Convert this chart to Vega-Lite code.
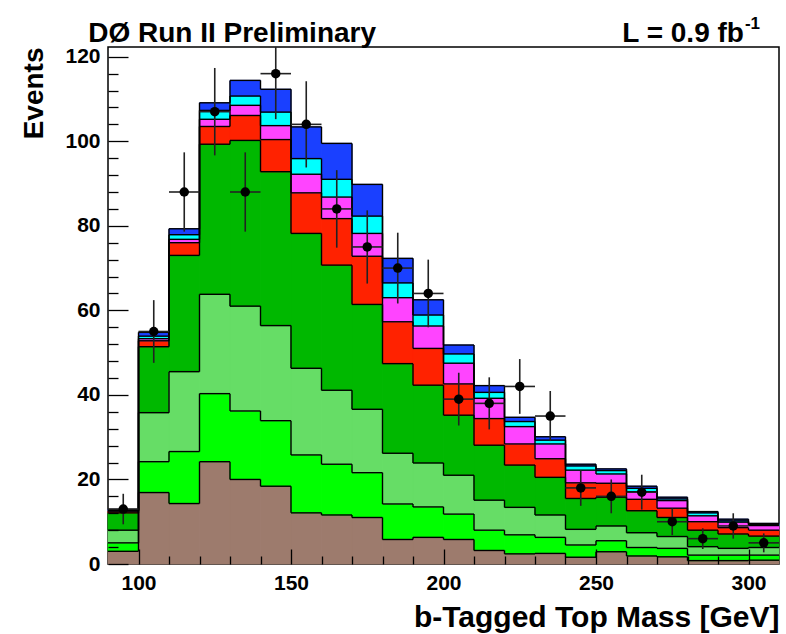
{
  "$schema": "https://vega.github.io/schema/vega-lite/v6.json",
  "width": 671,
  "height": 517,
  "autosize": {"type": "none"},
  "padding": {"left": 108, "top": 47, "right": 7, "bottom": 70},
  "background": "white",
  "config": {
    "font": "Liberation Sans",
    "view": {"stroke": "#000", "strokeWidth": 1.5}
  },
  "resolve": {"axis": {"x": "independent", "y": "independent"}},
  "datasets": {
    "mc": [
      {"lo": 90, "hi": 100, "multijet": 3.0, "wjj": 2.0, "wcc": 3.0, "wbb": 4.1, "ttlj": 0.4, "ttll": 0.1, "tqb": 0.1, "tb": 0.2},
      {"lo": 100, "hi": 110, "multijet": 16.9, "wjj": 7.3, "wcc": 11.6, "wbb": 15.6, "ttlj": 1.4, "ttll": 0.5, "tqb": 0.6, "tb": 0.9},
      {"lo": 110, "hi": 120, "multijet": 14.3, "wjj": 12.3, "wcc": 18.9, "wbb": 27.5, "ttlj": 3.0, "ttll": 0.8, "tqb": 1.1, "tb": 1.4},
      {"lo": 120, "hi": 130, "multijet": 24.2, "wjj": 16.1, "wcc": 23.5, "wbb": 35.5, "ttlj": 4.2, "ttll": 1.7, "tqb": 2.1, "tb": 1.8},
      {"lo": 130, "hi": 140, "multijet": 20.0, "wjj": 16.2, "wcc": 24.8, "wbb": 39.2, "ttlj": 5.9, "ttll": 2.4, "tqb": 2.2, "tb": 3.7},
      {"lo": 140, "hi": 150, "multijet": 18.4, "wjj": 15.5, "wcc": 22.5, "wbb": 36.4, "ttlj": 7.6, "ttll": 3.3, "tqb": 3.2, "tb": 5.4},
      {"lo": 150, "hi": 160, "multijet": 12.1, "wjj": 13.7, "wcc": 20.5, "wbb": 31.9, "ttlj": 9.6, "ttll": 4.4, "tqb": 3.7, "tb": 7.5},
      {"lo": 160, "hi": 170, "multijet": 11.6, "wjj": 12.0, "wcc": 17.5, "wbb": 29.6, "ttlj": 11.0, "ttll": 5.1, "tqb": 4.2, "tb": 8.5},
      {"lo": 170, "hi": 180, "multijet": 11.0, "wjj": 10.6, "wcc": 15.0, "wbb": 24.8, "ttlj": 11.4, "ttll": 5.4, "tqb": 4.1, "tb": 7.5},
      {"lo": 180, "hi": 190, "multijet": 5.8, "wjj": 8.4, "wcc": 12.0, "wbb": 21.2, "ttlj": 9.9, "ttll": 5.7, "tqb": 3.5, "tb": 5.8},
      {"lo": 190, "hi": 200, "multijet": 6.3, "wjj": 7.2, "wcc": 10.4, "wbb": 18.4, "ttlj": 8.7, "ttll": 5.3, "tqb": 2.6, "tb": 3.6},
      {"lo": 200, "hi": 210, "multijet": 5.8, "wjj": 6.0, "wcc": 9.2, "wbb": 14.2, "ttlj": 7.4, "ttll": 4.9, "tqb": 2.2, "tb": 2.1},
      {"lo": 210, "hi": 220, "multijet": 3.2, "wjj": 4.8, "wcc": 7.1, "wbb": 13.0, "ttlj": 6.3, "ttll": 4.8, "tqb": 1.4, "tb": 1.6},
      {"lo": 220, "hi": 230, "multijet": 2.4, "wjj": 4.5, "wcc": 6.5, "wbb": 10.0, "ttlj": 5.0, "ttll": 4.1, "tqb": 1.2, "tb": 1.0},
      {"lo": 230, "hi": 240, "multijet": 2.5, "wjj": 3.8, "wcc": 5.3, "wbb": 8.9, "ttlj": 4.4, "ttll": 3.5, "tqb": 0.9, "tb": 0.8},
      {"lo": 240, "hi": 250, "multijet": 1.6, "wjj": 2.9, "wcc": 3.7, "wbb": 7.3, "ttlj": 3.7, "ttll": 3.0, "tqb": 1.0, "tb": 0.4},
      {"lo": 250, "hi": 260, "multijet": 2.9, "wjj": 2.6, "wcc": 3.5, "wbb": 6.8, "ttlj": 3.3, "ttll": 2.2, "tqb": 0.8, "tb": 0.4},
      {"lo": 260, "hi": 270, "multijet": 1.9, "wjj": 2.0, "wcc": 3.5, "wbb": 5.2, "ttlj": 2.7, "ttll": 1.8, "tqb": 0.8, "tb": 0.5},
      {"lo": 270, "hi": 280, "multijet": 1.7, "wjj": 2.0, "wcc": 2.8, "wbb": 4.5, "ttlj": 2.2, "ttll": 1.8, "tqb": 0.4, "tb": 0.4},
      {"lo": 280, "hi": 290, "multijet": 0.8, "wjj": 1.3, "wcc": 2.0, "wbb": 3.9, "ttlj": 2.0, "ttll": 1.4, "tqb": 0.7, "tb": 0.3},
      {"lo": 290, "hi": 300, "multijet": 0.8, "wjj": 1.3, "wcc": 1.6, "wbb": 3.4, "ttlj": 1.5, "ttll": 1.3, "tqb": 0.3, "tb": 0.4},
      {"lo": 300, "hi": 310, "multijet": 0.9, "wjj": 1.2, "wcc": 1.8, "wbb": 2.7, "ttlj": 1.4, "ttll": 1.1, "tqb": 0.3, "tb": 0.2}
    ],
    "procs": [
      {"proc": "multijet", "ord": 1},
      {"proc": "wjj", "ord": 2},
      {"proc": "wcc", "ord": 3},
      {"proc": "wbb", "ord": 4},
      {"proc": "ttlj", "ord": 5},
      {"proc": "ttll", "ord": 6},
      {"proc": "tqb", "ord": 7},
      {"proc": "tb", "ord": 8}
    ],
    "obs": [
      {"m": 95, "lo": 90, "hi": 100, "n": 13, "elo": 9.39, "ehi": 16.61},
      {"m": 105, "lo": 100, "hi": 110, "n": 55, "elo": 47.58, "ehi": 62.42},
      {"m": 115, "lo": 110, "hi": 120, "n": 88, "elo": 78.62, "ehi": 97.38},
      {"m": 125, "lo": 120, "hi": 130, "n": 107, "elo": 96.66, "ehi": 117.34},
      {"m": 135, "lo": 130, "hi": 140, "n": 88, "elo": 78.62, "ehi": 97.38},
      {"m": 145, "lo": 140, "hi": 150, "n": 116, "elo": 105.23, "ehi": 126.77},
      {"m": 155, "lo": 150, "hi": 160, "n": 104, "elo": 93.8, "ehi": 114.2},
      {"m": 165, "lo": 160, "hi": 170, "n": 84, "elo": 74.83, "ehi": 93.17},
      {"m": 175, "lo": 170, "hi": 180, "n": 75, "elo": 66.34, "ehi": 83.66},
      {"m": 185, "lo": 180, "hi": 190, "n": 70, "elo": 61.63, "ehi": 78.37},
      {"m": 195, "lo": 190, "hi": 200, "n": 64, "elo": 56.0, "ehi": 72.0},
      {"m": 205, "lo": 200, "hi": 210, "n": 39, "elo": 32.76, "ehi": 45.24},
      {"m": 215, "lo": 210, "hi": 220, "n": 38, "elo": 31.84, "ehi": 44.16},
      {"m": 225, "lo": 220, "hi": 230, "n": 42, "elo": 35.52, "ehi": 48.48},
      {"m": 235, "lo": 230, "hi": 240, "n": 35, "elo": 29.08, "ehi": 40.92},
      {"m": 245, "lo": 240, "hi": 250, "n": 18, "elo": 13.76, "ehi": 22.24},
      {"m": 255, "lo": 250, "hi": 260, "n": 16, "elo": 12.0, "ehi": 20.0},
      {"m": 265, "lo": 260, "hi": 270, "n": 17, "elo": 12.88, "ehi": 21.12},
      {"m": 275, "lo": 270, "hi": 280, "n": 10, "elo": 6.84, "ehi": 13.16},
      {"m": 285, "lo": 280, "hi": 290, "n": 6, "elo": 3.55, "ehi": 8.45},
      {"m": 295, "lo": 290, "hi": 300, "n": 9, "elo": 6.0, "ehi": 12.0},
      {"m": 305, "lo": 300, "hi": 310, "n": 5, "elo": 2.76, "ehi": 7.24}
    ]
  },
  "layer": [
    {
      "data": {"name": "mc"},
      "transform": [
        {"fold": ["multijet", "wjj", "wcc", "wbb", "ttlj", "ttll", "tqb", "tb"], "as": ["proc", "n"]},
        {"lookup": "proc", "from": {"data": {"name": "procs"}, "key": "proc", "fields": ["ord"]}},
        {"stack": "n", "groupby": ["lo"], "sort": [{"field": "ord", "order": "ascending"}], "as": ["y0", "y1"]},
        {"window": [{"op": "lead", "field": "y1", "as": "next"}], "groupby": ["proc"], "sort": [{"field": "lo", "order": "ascending"}]}
      ],
      "resolve": {"axis": {"x": "independent", "y": "independent"}},
      "layer": [
        {
          "mark": {"type": "rect", "strokeWidth": 0.8},
          "encoding": {
            "x": {
              "field": "lo", "type": "quantitative",
              "scale": {"domain": [90, 310], "nice": false, "zero": false},
              "axis": {
                "orient": "bottom",
                "zindex": 1,
                "values": [100, 110, 120, 130, 140, 150, 160, 170, 180, 190, 200, 210, 220, 230, 240, 250, 260, 270, 280, 290, 300],
                "labelExpr": "datum.value % 50 === 0 ? datum.label : ''",
                "labelFont": "Liberation Sans",
                "labelFontSize": 21,
                "labelFontWeight": "bold",
                "labelColor": "#000",
                "labelPadding": 23,
                "labelOverlap": false,
                "labelFlush": false,
                "tickSize": {"condition": {"test": "datum.value % 50 === 0", "value": -15}, "value": -8},
                "tickColor": "#000",
                "tickWidth": 1.3,
                "domain": false,
                "grid": false,
                "title": "b-Tagged Top Mass [GeV]",
                "titleFont": "Liberation Sans",
                "titleFontSize": 30,
                "titleFontWeight": "bold",
                "titleColor": "#000",
                "titleAnchor": "end",
                "titlePadding": 2
              }
            },
            "x2": {"field": "hi"},
            "y": {
              "field": "y0", "type": "quantitative",
              "scale": {"domain": [0, 122.3], "nice": false, "zero": true},
              "axis": {
                "orient": "left",
                "zindex": 1,
                "values": [0, 4, 8, 12, 16, 20, 24, 28, 32, 36, 40, 44, 48, 52, 56, 60, 64, 68, 72, 76, 80, 84, 88, 92, 96, 100, 104, 108, 112, 116, 120],
                "labelExpr": "datum.value % 20 === 0 ? datum.label : ''",
                "labelFont": "Liberation Sans",
                "labelFontSize": 21,
                "labelFontWeight": "bold",
                "labelColor": "#000",
                "labelPadding": 28,
                "labelOverlap": false,
                "labelFlush": false,
                "tickSize": {"condition": {"test": "datum.value % 20 === 0", "value": -20}, "value": -10},
                "tickColor": "#000",
                "tickWidth": 1.3,
                "domain": false,
                "grid": false,
                "title": "Events",
                "titleFont": "Liberation Sans",
                "titleFontSize": 28,
                "titleFontWeight": "bold",
                "titleColor": "#000",
                "titleAnchor": "end",
                "titlePadding": 16
              }
            },
            "y2": {"field": "y1"},
            "color": {
              "field": "proc", "type": "nominal",
              "scale": {
                "domain": ["multijet", "wjj", "wcc", "wbb", "ttlj", "ttll", "tqb", "tb"],
                "range": ["#9d7b6d", "#00ff00", "#66dd66", "#00b800", "#ff2200", "#ff44ff", "#00ffff", "#1a40ff"]
              },
              "legend": null
            },
            "stroke": {
              "field": "proc", "type": "nominal",
              "scale": {
                "domain": ["multijet", "wjj", "wcc", "wbb", "ttlj", "ttll", "tqb", "tb"],
                "range": ["#9d7b6d", "#00ff00", "#66dd66", "#00b800", "#ff2200", "#ff44ff", "#00ffff", "#1a40ff"]
              },
              "legend": null
            }
          }
        },
        {
          "mark": {"type": "rule", "color": "#000", "strokeWidth": 1.4},
          "encoding": {
            "x": {"field": "lo", "type": "quantitative", "axis": null},
            "x2": {"field": "hi"},
            "y": {"field": "y1", "type": "quantitative", "axis": null}
          }
        },
        {
          "transform": [{"filter": "datum.next != null"}],
          "mark": {"type": "rule", "color": "#000", "strokeWidth": 1.4},
          "encoding": {
            "x": {"field": "hi", "type": "quantitative", "axis": null},
            "y": {"field": "y1", "type": "quantitative", "axis": null},
            "y2": {"field": "next"}
          }
        }
      ]
    },
    {
      "data": {"name": "obs"},
      "resolve": {"axis": {"x": "independent", "y": "independent"}},
      "layer": [
        {
          "mark": {"type": "rule", "color": "#222", "strokeWidth": 1.6, "clip": true},
          "encoding": {
            "x": {"field": "m", "type": "quantitative", "axis": null},
            "y": {"field": "elo", "type": "quantitative", "axis": null},
            "y2": {"field": "ehi"}
          }
        },
        {
          "mark": {"type": "rule", "color": "#222", "strokeWidth": 1.6, "clip": true},
          "encoding": {
            "x": {"field": "lo", "type": "quantitative", "axis": null},
            "x2": {"field": "hi"},
            "y": {"field": "n", "type": "quantitative", "axis": null}
          }
        },
        {
          "mark": {"type": "circle", "color": "#000", "opacity": 1, "size": 90},
          "encoding": {
            "x": {"field": "m", "type": "quantitative", "axis": null},
            "y": {"field": "n", "type": "quantitative", "axis": null}
          }
        }
      ]
    },
    {
      "data": {"values": [{}]},
      "resolve": {"axis": {"x": "independent", "y": "independent"}},
      "layer": [
        {
          "mark": {"type": "text", "text": "DØ Run II Preliminary", "align": "left", "baseline": "alphabetic", "font": "Liberation Sans", "fontSize": 28, "fontWeight": "bold", "color": "#000"},
          "encoding": {
            "x": {"datum": 83.5, "type": "quantitative", "axis": null},
            "y": {"datum": 123.5, "type": "quantitative", "axis": null}
          }
        },
        {
          "mark": {"type": "text", "text": "L = 0.9 fb", "align": "right", "baseline": "alphabetic", "font": "Liberation Sans", "fontSize": 28, "fontWeight": "bold", "color": "#000"},
          "encoding": {
            "x": {"datum": 298.5, "type": "quantitative", "axis": null},
            "y": {"datum": 123.5, "type": "quantitative", "axis": null}
          }
        },
        {
          "mark": {"type": "text", "text": "-1", "align": "left", "baseline": "alphabetic", "dx": 1, "dy": -13, "font": "Liberation Sans", "fontSize": 17, "fontWeight": "bold", "color": "#000"},
          "encoding": {
            "x": {"datum": 298.5, "type": "quantitative", "axis": null},
            "y": {"datum": 123.5, "type": "quantitative", "axis": null}
          }
        }
      ]
    }
  ]
}
